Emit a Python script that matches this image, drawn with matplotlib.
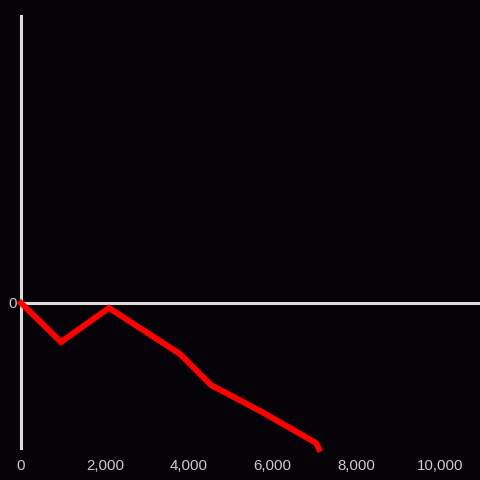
import matplotlib
matplotlib.use("Agg")
import matplotlib.pyplot as plt
from matplotlib.ticker import FuncFormatter

x_vals = [0, 955, 2100, 3795, 4535, 5752, 7041, 7112]
y_vals = [0, -39, -5, -51, -82, -109, -140, -146]
x_ticks = [0, 2000, 4000, 6000, 8000, 10000]
y_ticks = [0]

bg = "#050307"
fig = plt.figure(figsize=(4.8, 4.8), dpi=100, facecolor=bg)
ax = fig.add_axes([21/480, 32/480, 459/480, 432/480], facecolor=bg)

ax.plot(x_vals, y_vals, color="#ff0000", lw=4.3, solid_joinstyle="miter", clip_on=False, zorder=3)
ax.axhline(0, color="#dddddd", lw=2.2, zorder=2)

ax.set_xlim(0, 10955)
ax.set_ylim(-145, 287)

for s in ["top", "right", "bottom"]:
    ax.spines[s].set_visible(False)
ax.spines["left"].set_color("#dddddd")
ax.spines["left"].set_linewidth(2.2)

ax.set_xticks(x_ticks)
ax.set_yticks(y_ticks)
ax.xaxis.set_major_formatter(FuncFormatter(lambda v, p: f"{int(v):,}"))
ax.tick_params(axis="both", length=0, colors="#cccccc", labelsize=10.8)
ax.tick_params(axis="x", pad=8)
ax.tick_params(axis="y", pad=3)
for lab in ax.get_xticklabels() + ax.get_yticklabels():
    lab.set_fontfamily("Liberation Sans")

fig.savefig("out.png", dpi=100, facecolor=bg)
